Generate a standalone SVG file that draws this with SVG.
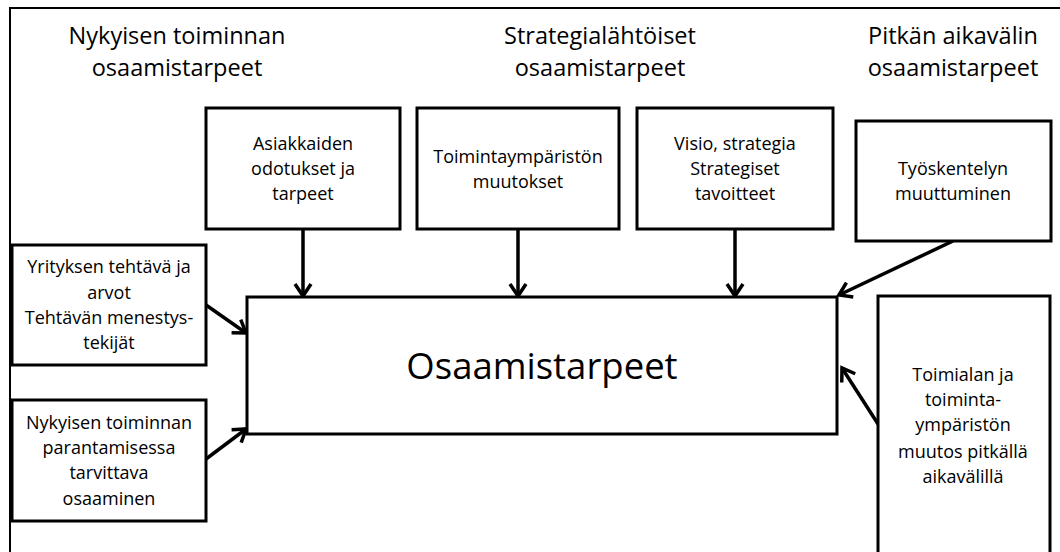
<svg xmlns="http://www.w3.org/2000/svg" width="1060" height="552" viewBox="0 0 1060 552">
<style>
text{font-family:"Open Sans","Noto Sans",sans-serif;fill:#000;text-anchor:middle}
.h{font-size:23.5px}
.t{font-size:18px}
.m{font-size:36.5px}
.box{fill:#fff;stroke:#000;stroke-width:3}
.c{stroke:#000;stroke-width:3.5;fill:none;marker-end:url(#ah)}
</style>
<defs>
<marker id="ah" markerUnits="userSpaceOnUse" markerWidth="20" markerHeight="20" viewBox="0 0 20 20" refX="15" refY="10" orient="auto">
<path d="M3,2 L15,10 L3,18" fill="none" stroke="#000" stroke-width="3.5"/>
</marker>
</defs>
<rect x="10" y="8" width="1060" height="560" fill="#fff" stroke="#000" stroke-width="2"/>
<g id="headers">
<text class="h" x="177" y="44">Nykyisen toiminnan</text>
<text class="h" x="177" y="76">osaamistarpeet</text>
<text class="h" x="600" y="44">Strategialähtöiset</text>
<text class="h" x="600" y="76">osaamistarpeet</text>
<text class="h" x="953" y="44">Pitkän aikavälin</text>
<text class="h" x="953" y="76">osaamistarpeet</text>
</g>
<g id="connectors">
<line class="c" x1="303" y1="229" x2="303" y2="296"/>
<line class="c" x1="518" y1="229" x2="518" y2="296"/>
<line class="c" x1="735" y1="229" x2="735" y2="296"/>
<line class="c" x1="953" y1="241" x2="839" y2="295"/>
<line class="c" x1="206" y1="305" x2="246" y2="333"/>
<line class="c" x1="206" y1="459" x2="246" y2="429"/>
<line class="c" x1="878" y1="424" x2="842" y2="368"/>
</g>
<g id="n-asiakkaat">
<rect class="box" x="206" y="108" width="194" height="121"/>
<text class="t" x="303" y="150">Asiakkaiden</text>
<text class="t" x="303" y="175">odotukset ja</text>
<text class="t" x="303" y="200">tarpeet</text>
</g>
<g id="n-toimintaymparisto">
<rect class="box" x="417" y="108" width="202" height="121"/>
<text class="t" x="518" y="163">Toimintaympäristön</text>
<text class="t" x="518" y="188">muutokset</text>
</g>
<g id="n-visio">
<rect class="box" x="637" y="108" width="196" height="121"/>
<text class="t" x="735" y="150">Visio, strategia</text>
<text class="t" x="735" y="175">Strategiset</text>
<text class="t" x="735" y="200">tavoitteet</text>
</g>
<g id="n-tyoskentely">
<rect class="box" x="856" y="121" width="195" height="120"/>
<text class="t" x="953" y="175">Työskentelyn</text>
<text class="t" x="953" y="200">muuttuminen</text>
</g>
<g id="n-yritys">
<rect class="box" x="12" y="245" width="194" height="120"/>
<text class="t" x="109" y="273">Yrityksen tehtävä ja</text>
<text class="t" x="109" y="299">arvot</text>
<text class="t" x="109" y="324">Tehtävän menestys-</text>
<text class="t" x="109" y="349">tekijät</text>
</g>
<g id="n-nykyinen">
<rect class="box" x="12" y="400" width="194" height="121"/>
<text class="t" x="109" y="429">Nykyisen toiminnan</text>
<text class="t" x="109" y="454">parantamisessa</text>
<text class="t" x="109" y="479">tarvittava</text>
<text class="t" x="109" y="505">osaaminen</text>
</g>
<g id="n-osaamistarpeet">
<rect class="box" x="247" y="297" width="590" height="137"/>
<text class="m" x="542" y="379">Osaamistarpeet</text>
</g>
<g id="n-toimiala">
<rect class="box" x="878" y="296" width="172" height="280"/>
<text class="t" x="963" y="381">Toimialan ja</text>
<text class="t" x="963" y="406">toiminta-</text>
<text class="t" x="963" y="431">ympäristön</text>
<text class="t" x="963" y="458">muutos pitkällä</text>
<text class="t" x="963" y="483">aikavälillä</text>
</g>
</svg>
